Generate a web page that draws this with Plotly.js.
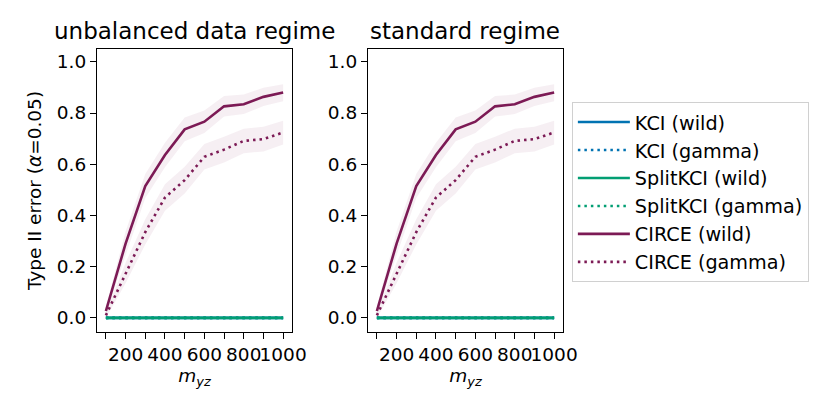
<!DOCTYPE html>
<html>
<head>
<meta charset="utf-8">
<script src="https://cdn.plot.ly/plotly-3.0.1.min.js"></script>
<style>
  html, body { margin: 0; padding: 0; background: #fff; }
  #chart { width: 830px; height: 415px; }
</style>
</head>
<body>
<div id="chart"></div>
<script>
// sample sizes on the x axis
var mValues = [100, 200, 300, 400, 500, 600, 700, 800, 900, 1000];
var xTickVals = [200, 400, 600, 800, 1000];
var xTickText = ['200', '400', '600', '800', '1000'];
var xMinorVals = [100, 300, 500, 700, 900];
var yTickVals = [0, 0.2, 0.4, 0.6, 0.8, 1.0];
var yTickText = ['0.0', '0.2', '0.4', '0.6', '0.8', '1.0'];

// KCI and SplitKCI never miss: type II error stays at 0
var kciWild = [0, 0, 0, 0, 0, 0, 0, 0, 0, 0];
var kciGamma = [0, 0, 0, 0, 0, 0, 0, 0, 0, 0];
var splitWild = [0, 0, 0, 0, 0, 0, 0, 0, 0, 0];
var splitGamma = [0, 0, 0, 0, 0, 0, 0, 0, 0, 0];

// CIRCE (both regimes look the same)
var circeWild = [0.027, 0.29, 0.515, 0.636, 0.736, 0.766, 0.826, 0.834, 0.863, 0.880];
var circeWildLo = [0.012, 0.245, 0.468, 0.588, 0.690, 0.722, 0.786, 0.796, 0.827, 0.846];
var circeWildHi = [0.045, 0.337, 0.562, 0.684, 0.782, 0.810, 0.866, 0.872, 0.899, 0.912];
var circeGamma = [0.01, 0.175, 0.335, 0.470, 0.538, 0.629, 0.657, 0.691, 0.698, 0.724];
var circeGammaLo = [0.0, 0.135, 0.287, 0.418, 0.486, 0.579, 0.607, 0.643, 0.650, 0.677];
var circeGammaHi = [0.022, 0.215, 0.385, 0.522, 0.590, 0.679, 0.707, 0.739, 0.746, 0.770];

var blue = '#0173b2';
var green = '#029e73';
var circe = '#7c1a55';
var bandFill = 'rgba(124,26,85,0.07)';
var dotted = '2.5px,4px';

function panelTraces(xa, ya, legend) {
  var t = [];
  function line(name, y, color, dash) {
    t.push({x: mValues, y: y, xaxis: xa, yaxis: ya, name: name, mode: 'lines', showlegend: legend,
            line: {color: color, width: 2.6, dash: dash}});
  }
  function band(lo, hi) {
    t.push({x: mValues, y: lo, xaxis: xa, yaxis: ya, mode: 'lines', line: {width: 0}, showlegend: false, hoverinfo: 'skip'});
    t.push({x: mValues, y: hi, xaxis: xa, yaxis: ya, mode: 'lines', line: {width: 0}, fill: 'tonexty',
            fillcolor: bandFill, showlegend: false, hoverinfo: 'skip'});
  }
  band(circeWildLo, circeWildHi);
  band(circeGammaLo, circeGammaHi);
  line('KCI (wild)', kciWild, blue, 'solid');
  line('KCI (gamma)', kciGamma, blue, dotted);
  line('SplitKCI (wild)', splitWild, green, 'solid');
  line('SplitKCI (gamma)', splitGamma, green, dotted);
  line('CIRCE (wild)', circeWild, circe, 'solid');
  line('CIRCE (gamma)', circeGamma, circe, dotted);
  return t;
}

var traces = panelTraces('x', 'y', true).concat(panelTraces('x2', 'y2', false));

function xAxis(domain, anchor) {
  return {domain: domain, anchor: anchor, range: [55, 1045], tickvals: xTickVals, ticktext: xTickText, tickangle: 0,
          ticks: 'outside', ticklen: 6, tickwidth: 1.2, tickcolor: '#000', showgrid: false, zeroline: false,
          minor: {tickvals: xMinorVals, ticks: 'outside', ticklen: 6, tickwidth: 1.2, tickcolor: '#000', showgrid: false},
          showline: true, mirror: true, linecolor: '#000', linewidth: 1.2,
          tickfont: {size: 18.5, color: '#000'},
          title: {text: '<i>m</i><sub><i>yz</i></sub>', font: {size: 18.5, color: '#000'}, standoff: 2}};
}
function yAxis(domain, anchor, title) {
  var a = {domain: domain, anchor: anchor, range: [-0.055, 1.05], tickvals: yTickVals, ticktext: yTickText,
           ticks: 'outside', ticklen: 6, tickwidth: 1.2, tickcolor: '#000', showgrid: false, zeroline: false,
           showline: true, mirror: true, linecolor: '#000', linewidth: 1.2,
           tickfont: {size: 18.5, color: '#000'}};
  if (title) a.title = {text: title, font: {size: 18.5, color: '#000'}, standoff: 10};
  return a;
}

var yDom = [0.2, 0.882];
var layout = {
  width: 830, height: 415,
  margin: {l: 0, r: 0, t: 0, b: 0},
  paper_bgcolor: '#fff', plot_bgcolor: '#fff',
  font: {family: 'DejaVu Sans', color: '#000'},
  xaxis: xAxis([0.1169, 0.3518], 'y'),
  yaxis: yAxis(yDom, 'x', 'Type II error (<i>α</i>=0.05)'),
  xaxis2: xAxis([0.4434, 0.6783], 'y2'),
  yaxis2: yAxis(yDom, 'x2', null),
  showlegend: true,
  legend: {x: 0.689, y: 0.754, xanchor: 'left', yanchor: 'top', bordercolor: '#d0d0d0', borderwidth: 1,
           bgcolor: '#fff', font: {size: 19.2, color: '#000'}, itemwidth: 52, traceorder: 'normal'},
  annotations: [
    {text: 'unbalanced data regime', x: 0.2343, y: 0.89, xref: 'paper', yref: 'paper',
     xanchor: 'center', yanchor: 'bottom', showarrow: false, font: {size: 23, color: '#000'}},
    {text: 'standard regime', x: 0.5608, y: 0.89, xref: 'paper', yref: 'paper',
     xanchor: 'center', yanchor: 'bottom', showarrow: false, font: {size: 23, color: '#000'}}
  ]
};

Plotly.newPlot('chart', traces, layout, {displayModeBar: false, responsive: false});
</script>
</body>
</html>
